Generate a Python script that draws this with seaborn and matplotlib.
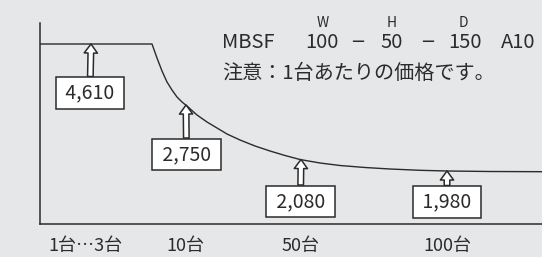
import numpy as np
import pandas as pd
import matplotlib
matplotlib.use("Agg")
import matplotlib.pyplot as plt
import seaborn as sns

sns.set_style("white")
plt.rcParams['font.family'] = ['Noto Sans CJK JP', 'DejaVu Sans']

# price curve (x = horizontal position, y = vertical position, px)
curve_x = [40, 152, 157, 162, 167, 172, 177, 182, 187, 197, 207, 217, 227, 240, 255,
           270, 285, 300, 320, 340, 365, 390, 420, 447, 490, 542]
curve_y = [44, 44, 58, 71, 82, 90, 97, 102, 106, 115, 122, 128, 134, 140, 146,
           151, 155.5, 159.5, 163, 165.5, 167.5, 169, 170.3, 171, 171.5, 171.7]

# price labels
prices = [4610, 2750, 2080, 1980]
price_x = [91, 186, 301, 447]
price_tip_y = [44, 105, 159.5, 171]
box_x = [90, 186.5, 300.5, 447]
box_y = [93, 154.5, 201.5, 202]

qty_labels = ['1台…3台', '10台', '50台', '100台']
qty_x = [85, 185, 301, 447]

bg = '#e6e7e9'
ink = '#2b2b2b'

df = pd.DataFrame({'x': curve_x, 'y': curve_y})

fig = plt.figure(figsize=(5.42, 2.57), dpi=100, facecolor=bg)
ax = fig.add_axes([40 / 542, 1 - 224 / 257, 502 / 542, (224 - 23) / 257])
ax.set_facecolor(bg)

sns.lineplot(data=df, x='x', y='y', ax=ax, color=ink, linewidth=1.0, sort=False)

ax.set_xlim(40, 542)
ax.set_ylim(224, 23)
for s in ['top', 'right']:
    ax.spines[s].set_visible(False)
for s in ['left', 'bottom']:
    ax.spines[s].set_color(ink)
    ax.spines[s].set_linewidth(1.1)
ax.set_xlabel('')
ax.set_ylabel('')
ax.set_yticks([])
ax.set_xticks(qty_x, qty_labels)
ax.tick_params(axis='x', length=0, pad=9, labelsize=13, labelcolor=ink)

for p, px, ty, bx, by in zip(prices, price_x, price_tip_y, box_x, box_y):
    ax.annotate(f' {p:,} ', xy=(px, ty), xytext=(bx, by), textcoords='data',
                ha='center', va='center', fontsize=14, color=ink,
                bbox=dict(boxstyle='square,pad=0.28', fc='white', ec=ink, lw=1.1),
                arrowprops=dict(arrowstyle='simple,head_length=6.5,head_width=9.5,tail_width=4',
                                mutation_scale=1, fc='white', ec=ink, lw=1.1,
                                shrinkA=0, shrinkB=0))

# model number header
hdr = dict(color=ink, fontsize=14.5, va='center')
ax.text(222, 42, 'MBSF', ha='left', **hdr)
ax.text(322, 42, '100', ha='center', **hdr)
ax.text(392, 42, '50', ha='center', **hdr)
ax.text(465, 42, '150', ha='center', **hdr)
ax.text(518, 42, 'A10', ha='center', **hdr)
for dx in [358, 428]:
    ax.text(dx, 42.5, '−', ha='center', color=ink, fontsize=13, va='center',
            family='DejaVu Sans')
for lab, lx in zip(['W', 'H', 'D'], [323, 392, 463]):
    ax.text(lx, 23, lab, ha='center', va='center', fontsize=10, color=ink)
ax.text(222, 73, '注意：1台あたりの価格です。', ha='left', **hdr)

fig.savefig('out.png', dpi=100, facecolor=bg)
